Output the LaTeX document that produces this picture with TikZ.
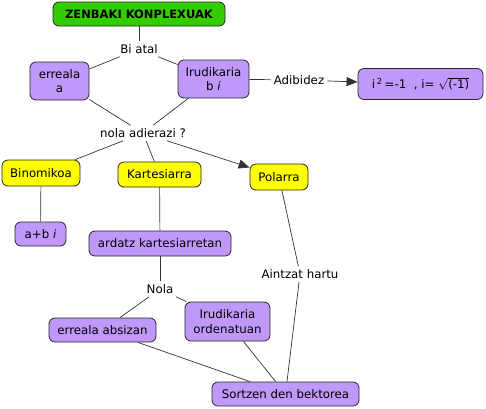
\documentclass[tikz,border=0pt]{standalone}
\usepackage{fontspec}
\setmainfont{DejaVu Sans}
\usetikzlibrary{arrows.meta}
\definecolor{cgreen}{RGB}{51,204,0}
\definecolor{clilac}{RGB}{192,152,250}
\definecolor{cyellow}{RGB}{255,255,0}
\tikzset{
  box/.style={draw=black!85, rounded corners=6pt, align=center, inner sep=2pt,
    font=\fontsize{11.8}{14.5}\selectfont, line width=0.8pt},
  lil/.style={box, fill=clilac},
  yel/.style={box, fill=cyellow},
  lab/.style={inner sep=3pt, font=\fontsize{11.8}{14}\selectfont},
  conn/.style={draw=black!80, line width=0.7pt},
  arr/.style={conn, -{Triangle[length=11pt,width=9pt]}},
}
\begin{document}
\begin{tikzpicture}[x=1pt,y=-1pt]
\useasboundingbox (0,0) rectangle (486,408);
\node[box, fill=cgreen, minimum width=172, minimum height=24, font=\fontsize{11.5}{13}\selectfont\bfseries] (top) at (139,14) {ZENBAKI KONPLEXUAK};
\node[lab] (biatal) at (139,49) {Bi atal};
\node[lil, minimum width=59, minimum height=38] (erreal) at (59.5,81) {erreala\\a};
\node[lil, minimum width=71, minimum height=38] (irud) at (213.5,79) {Irudikaria\\b \textit{i}};
\node[lab] (adib) at (299,80) {Adibidez};
\node[lil, minimum width=125, minimum height=31] (ibox) at (420.5,84) {i\,\textsuperscript{2}\,=-1\ \ , i= $\sqrt{\hbox{(-1)}}$};
\node[lab] (nola) at (143,133) {nola adierazi ?};
\node[yel, minimum width=78, minimum height=26] (binom) at (41,173) {Binomikoa};
\node[yel, minimum width=83, minimum height=25] (kart) at (159.5,174.5) {Kartesiarra};
\node[yel, minimum width=58, minimum height=26] (polar) at (279,177) {Polarra};
\node[lil, minimum width=51, minimum height=24] (abi) at (40.5,234) {a+b \textit{i}};
\node[lil, minimum width=142, minimum height=25] (ardatz) at (160,243.5) {ardatz kartesiarretan};
\node[lab] (nolab) at (160,289) {Nola};
\node[lab] (aintzat) at (300,274) {Aintzat hartu};
\node[lil, minimum width=107, minimum height=24] (abs) at (102.5,330) {erreala absizan};
\node[lil, minimum width=85, minimum height=39] (ord) at (227.5,321.5) {Irudikaria\\ordenatuan};
\node[lil, minimum width=147, minimum height=24] (sortz) at (285.5,394) {Sortzen den bektorea};

\draw[conn] (top) -- (biatal);
\draw[conn] (biatal) -- (erreal);
\draw[conn] (biatal) -- (irud);
\draw[conn] (irud) -- (adib);
\draw[arr] (adib) -- (ibox);
\draw[conn] (erreal) -- (nola);
\draw[conn] (irud) -- (nola);
\draw[conn] (nola) -- (binom);
\draw[conn] (nola) -- (kart);
\draw[arr] (nola) -- (polar);
\draw[conn] (binom) -- (abi);
\draw[conn] (kart) -- (ardatz);
\draw[conn] (ardatz) -- (nolab);
\draw[conn] (nolab) -- (abs);
\draw[conn] (nolab) -- (ord);
\draw[conn] (polar) -- (aintzat);
\draw[conn] (aintzat) -- (sortz);
\draw[conn] (abs) -- (sortz);
\draw[conn] (ord) -- (sortz);
\end{tikzpicture}
\end{document}
